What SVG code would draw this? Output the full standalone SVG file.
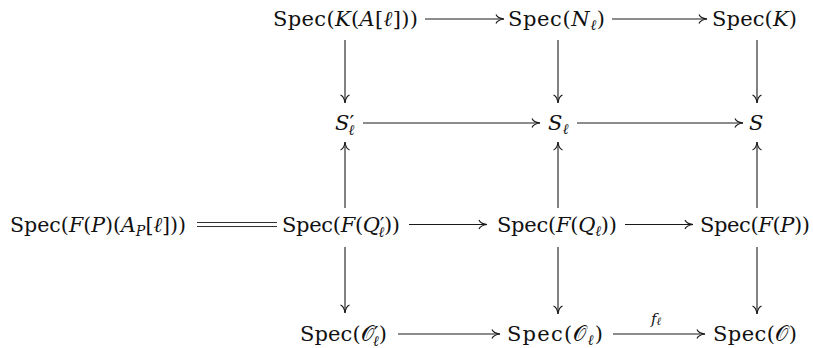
<svg xmlns="http://www.w3.org/2000/svg" width="813" height="348" viewBox="0 0 813 348">
<style>
.t{font-family:"DejaVu Serif","Liberation Serif",serif;font-size:21px;fill:#111}
.i{font-style:italic}
.s{font-size:14.5px}
.a{fill:none;stroke:#1a1a1a;stroke-width:1.1}
.d{fill:none;stroke:#1a1a1a;stroke-width:0.9}
</style>
<defs>
<marker id="to" viewBox="-10 -6 12 12" refX="0" refY="0" markerWidth="12" markerHeight="12" markerUnits="userSpaceOnUse" orient="auto">
<path d="M-8,-4.5 C-7,-1.8 -3,-0.4 0,0 C-3,0.4 -7,1.8 -8,4.5" fill="none" stroke="#1a1a1a" stroke-width="1.1"/>
</marker>
</defs>
<g id="connectors">
<path class="a" marker-end="url(#to)" d="M425,19 H504"/>
<path class="a" marker-end="url(#to)" d="M612,19 H707"/>
<path class="a" marker-end="url(#to)" d="M363,123 H540"/>
<path class="a" marker-end="url(#to)" d="M577,123 H743"/>
<path class="d" d="M197,222.5 H277 M197,226.5 H277"/>
<path class="a" marker-end="url(#to)" d="M409,224.5 H487"/>
<path class="a" marker-end="url(#to)" d="M625,224.5 H693"/>
<path class="a" marker-end="url(#to)" d="M398,334 H500"/>
<path class="a" marker-end="url(#to)" d="M613,334 H705"/>
<path class="a" marker-end="url(#to)" d="M345,40 V103"/>
<path class="a" marker-end="url(#to)" d="M345,208 V142"/>
<path class="a" marker-end="url(#to)" d="M345,247 V313"/>
<path class="a" marker-end="url(#to)" d="M558,40 V103"/>
<path class="a" marker-end="url(#to)" d="M558,208 V142"/>
<path class="a" marker-end="url(#to)" d="M558,247 V314"/>
<path class="a" marker-end="url(#to)" d="M757,40 V103"/>
<path class="a" marker-end="url(#to)" d="M757,208 V142"/>
<path class="a" marker-end="url(#to)" d="M757,247 V314"/>
<text class="t" x="651" y="324" style="font-size:15px"><tspan class="i">f</tspan><tspan class="i" style="font-size:11px" dy="1">ℓ</tspan></text>
</g>
<g id="n-SpecKAl"><text class="t" x="273" y="26" textLength="145" lengthAdjust="spacing">Spec(<tspan class="i">K</tspan>(<tspan class="i">A</tspan>[<tspan class="i">ℓ</tspan>]))</text></g>
<g id="n-SpecNl"><text class="t" x="508" y="26" textLength="97" lengthAdjust="spacing">Spec(<tspan class="i">N</tspan><tspan class="s i" dy="4">ℓ</tspan><tspan dy="-4">)</tspan></text></g>
<g id="n-SpecK"><text class="t" x="712" y="26" textLength="85" lengthAdjust="spacing">Spec(<tspan class="i">K</tspan>)</text></g>
<g id="n-Spl"><text class="t" x="335" y="130"><tspan class="i">S</tspan><tspan>′</tspan><tspan class="s i" dx="-6" dy="5">ℓ</tspan></text></g>
<g id="n-Sl"><text class="t" x="548" y="130"><tspan class="i">S</tspan><tspan class="s i" dy="4">ℓ</tspan></text></g>
<g id="n-S"><text class="t i" x="749" y="130">S</text></g>
<g id="n-SpecFPAP"><text class="t" x="10" y="231.5" textLength="176" lengthAdjust="spacingAndGlyphs">Spec(<tspan class="i">F</tspan>(<tspan class="i">P</tspan>)(<tspan class="i">A</tspan><tspan class="s i" dy="4">P</tspan><tspan dy="-4">[</tspan><tspan class="i">ℓ</tspan>]))</text></g>
<g id="n-SpecFQpl"><text class="t" x="282" y="231.5" textLength="118" lengthAdjust="spacing">Spec(<tspan class="i">F</tspan>(<tspan class="i">Q</tspan><tspan>′</tspan><tspan class="s i" dx="-6" dy="5">ℓ</tspan><tspan dy="-5">))</tspan></text></g>
<g id="n-SpecFQl"><text class="t" x="497" y="231.5" textLength="120" lengthAdjust="spacing">Spec(<tspan class="i">F</tspan>(<tspan class="i">Q</tspan><tspan class="s i" dy="4">ℓ</tspan><tspan dy="-4">))</tspan></text></g>
<g id="n-SpecFP"><text class="t" x="700" y="231.5" textLength="110" lengthAdjust="spacing">Spec(<tspan class="i">F</tspan>(<tspan class="i">P</tspan>))</text></g>
<g id="n-SpecOpl"><text class="t" x="300" y="341" textLength="87" lengthAdjust="spacing">Spec(<tspan>𝒪</tspan><tspan>′</tspan><tspan class="s i" dx="-6" dy="5">ℓ</tspan><tspan dy="-5">)</tspan></text></g>
<g id="n-SpecOl"><text class="t" x="507" y="341" textLength="96" lengthAdjust="spacing">Spec(<tspan>𝒪</tspan><tspan class="s i" dy="4">ℓ</tspan><tspan dy="-4">)</tspan></text></g>
<g id="n-SpecO"><text class="t" x="713" y="341" textLength="84" lengthAdjust="spacing">Spec(<tspan>𝒪</tspan>)</text></g>
</svg>
